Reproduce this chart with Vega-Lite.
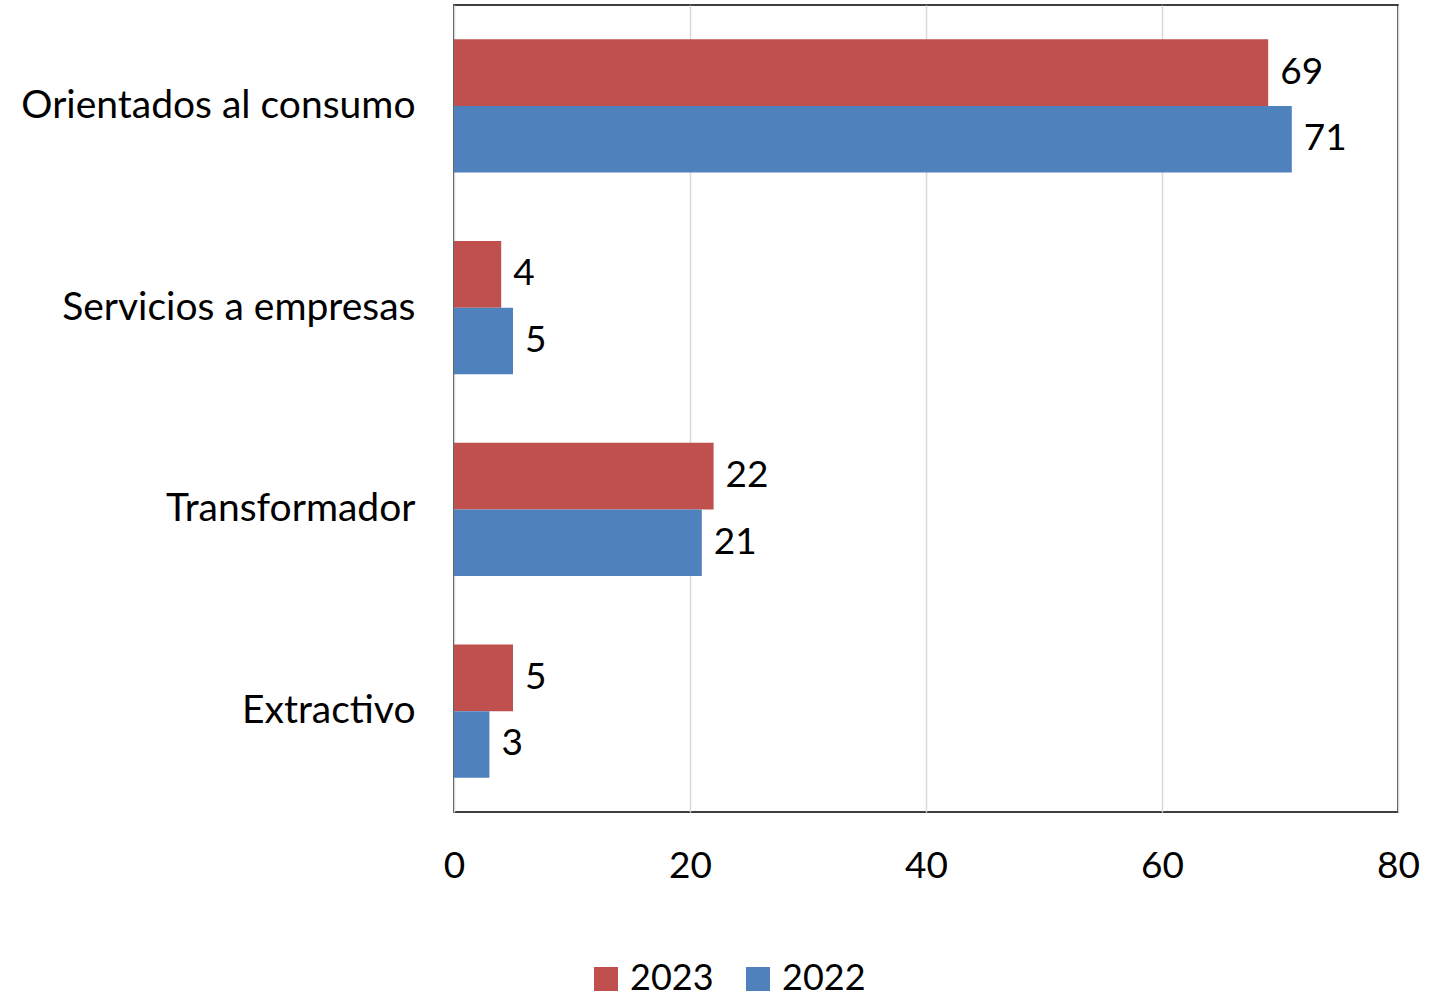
{
  "$schema": "https://vega.github.io/schema/vega-lite/v6.json",
  "autosize": {"type": "none"},
  "padding": {"left": 454, "top": 5, "right": 50, "bottom": 186},
  "width": 944,
  "height": 807,
  "background": "white",
  "config": {
    "font": "Lato",
    "view": {"stroke": "#000000", "strokeWidth": 1.5}
  },
  "data": {
    "values": [
      {"cat": "Orientados al consumo", "year": "2023", "v": 69},
      {"cat": "Orientados al consumo", "year": "2022", "v": 71},
      {"cat": "Servicios a empresas", "year": "2023", "v": 4},
      {"cat": "Servicios a empresas", "year": "2022", "v": 5},
      {"cat": "Transformador", "year": "2023", "v": 22},
      {"cat": "Transformador", "year": "2022", "v": 21},
      {"cat": "Extractivo", "year": "2023", "v": 5},
      {"cat": "Extractivo", "year": "2022", "v": 3}
    ]
  },
  "encoding": {
    "y": {
      "field": "cat", "type": "nominal",
      "sort": ["Orientados al consumo", "Servicios a empresas", "Transformador", "Extractivo"],
      "scale": {"paddingInner": 0.34, "paddingOuter": 0.17},
      "axis": {"title": null, "ticks": false, "domain": false, "labelFontSize": 39, "labelPadding": 39, "labelColor": "#000000", "labelLimit": 500}
    },
    "yOffset": {"field": "year", "type": "nominal", "sort": ["2023", "2022"]},
    "x": {
      "field": "v", "type": "quantitative",
      "scale": {"domain": [0, 80], "nice": false},
      "axis": {"title": null, "values": [0, 20, 40, 60, 80], "ticks": false, "domain": false, "labelFontSize": 37, "labelPadding": 36, "labelColor": "#000000", "gridColor": "#d9d9d9", "gridWidth": 1.5, "labelFlush": false}
    }
  },
  "layer": [
    {
      "mark": {"type": "bar"},
      "encoding": {
        "color": {
          "field": "year", "type": "nominal",
          "scale": {"domain": ["2023", "2022"], "range": ["#C0504D", "#4F81BD"]},
          "legend": {
            "title": null, "orient": "none", "direction": "horizontal",
            "legendX": 134, "legendY": 956,
            "symbolType": "square", "symbolSize": 576, "symbolStrokeWidth": 0,
            "labelFontSize": 36, "labelColor": "#000000", "labelOffset": 6,
            "columnPadding": 26
          }
        }
      }
    },
    {
      "mark": {"type": "text", "align": "left", "baseline": "middle", "dx": 12, "fontSize": 37, "color": "#000000"},
      "encoding": {"text": {"field": "v", "type": "quantitative"}}
    }
  ]
}
